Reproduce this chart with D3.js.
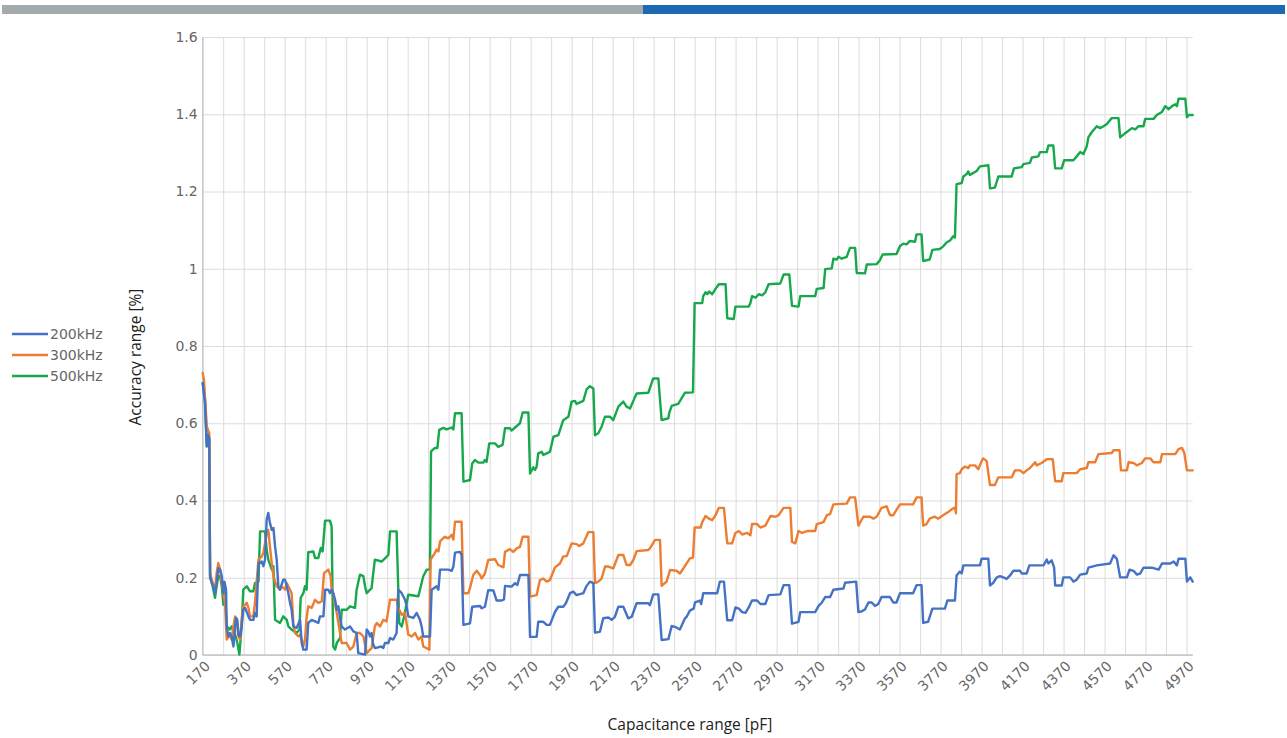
<!DOCTYPE html>
<html>
<head>
<meta charset="utf-8">
<script src="https://cdn.jsdelivr.net/npm/d3@7"></script>
<style>
  body { margin: 0; background: #ffffff; }
  svg { display: block; }
</style>
</head>
<body>
<svg id="chart" width="1287" height="738"></svg>
<script>
// Series labels and colours
const seriesNames = ["200kHz", "300kHz", "500kHz"];
const seriesColors = ["#4472c4", "#ed7d31", "#17a84c"];

// Axis tick labels
const yTickValues = [0, 0.2, 0.4, 0.6, 0.8, 1.0, 1.2, 1.4, 1.6];
const xTickLabels = [170, 370, 570, 770, 970, 1170, 1370, 1570, 1770, 1970, 2170, 2370,
  2570, 2770, 2970, 3170, 3370, 3570, 3770, 3970, 4170, 4370, 4570, 4770, 4970];

// Accuracy range [%] versus capacitance [pF] — 200 kHz
const acc200 = [[170,0.704],[181,0.652],[190,0.54],[196,0.57],[202,0.562],[206,0.204],[214,0.186],[222,0.178],[230,0.16],[238,0.186],[246,0.225],[255,0.221],[263,0.204],[271,0.16],[276,0.19],[284,0.169],[287,0.074],[295,0.048],[303,0.057],[311,0.048],[320,0.022],[328,0.074],[333,0.096],[339,0.091],[344,0.053],[352,0.048],[360,0.074],[368,0.117],[377,0.122],[393,0.1],[401,0.091],[417,0.091],[425,0.109],[433,0.1],[442,0.238],[458,0.242],[466,0.23],[474,0.247],[482,0.35],[490,0.368],[498,0.342],[507,0.324],[515,0.329],[523,0.281],[531,0.247],[539,0.178],[547,0.169],[563,0.195],[572,0.195],[580,0.178],[588,0.16],[596,0.135],[604,0.117],[612,0.074],[628,0.07],[645,0.091],[653,0.031],[661,0.014],[677,0.014],[685,0.083],[702,0.091],[734,0.083],[742,0.1],[759,0.1],[767,0.169],[783,0.169],[791,0.16],[799,0.169],[807,0.16],[816,0.143],[824,0.117],[832,0.126],[840,0.096],[848,0.074],[864,0.066],[889,0.074],[905,0.061],[921,0.057],[929,0.005],[962,0.001],[970,0.066],[978,0.061],[986,0.048],[994,0.057],[1002,0.027],[1010,0.018],[1043,0.022],[1051,0.018],[1059,0.031],[1076,0.031],[1084,0.044],[1100,0.04],[1116,0.057],[1124,0.169],[1141,0.16],[1157,0.143],[1165,0.126],[1173,0.1],[1198,0.096],[1214,0.109],[1230,0.091],[1238,0.074],[1246,0.048],[1279,0.048],[1287,0.169],[1311,0.178],[1320,0.169],[1328,0.221],[1368,0.221],[1385,0.218],[1393,0.229],[1401,0.265],[1425,0.267],[1433,0.259],[1442,0.078],[1474,0.082],[1485,0.125],[1523,0.127],[1531,0.121],[1547,0.125],[1563,0.168],[1588,0.167],[1604,0.141],[1629,0.141],[1640,0.144],[1645,0.179],[1677,0.177],[1694,0.186],[1705,0.181],[1718,0.207],[1759,0.207],[1767,0.047],[1799,0.047],[1807,0.086],[1832,0.086],[1848,0.078],[1864,0.078],[1889,0.112],[1905,0.125],[1929,0.125],[1942,0.134],[1962,0.16],[1978,0.164],[1994,0.155],[2027,0.16],[2043,0.179],[2059,0.19],[2076,0.186],[2084,0.058],[2108,0.06],[2124,0.095],[2149,0.097],[2165,0.091],[2181,0.099],[2198,0.125],[2222,0.125],[2246,0.095],[2263,0.099],[2287,0.134],[2344,0.134],[2352,0.129],[2368,0.157],[2393,0.157],[2409,0.039],[2442,0.041],[2458,0.075],[2474,0.073],[2498,0.066],[2523,0.095],[2531,0.099],[2547,0.115],[2565,0.12],[2572,0.136],[2596,0.141],[2602,0.132],[2612,0.16],[2680,0.16],[2693,0.19],[2713,0.19],[2729,0.09],[2753,0.09],[2769,0.123],[2786,0.12],[2802,0.111],[2818,0.109],[2834,0.123],[2850,0.141],[2875,0.141],[2891,0.132],[2915,0.132],[2931,0.155],[2988,0.157],[3004,0.181],[3032,0.181],[3045,0.081],[3077,0.086],[3085,0.111],[3158,0.111],[3175,0.127],[3191,0.136],[3207,0.15],[3231,0.15],[3247,0.169],[3296,0.172],[3304,0.187],[3358,0.19],[3369,0.111],[3385,0.113],[3401,0.118],[3418,0.136],[3434,0.136],[3450,0.127],[3466,0.132],[3482,0.15],[3523,0.15],[3539,0.136],[3555,0.136],[3572,0.16],[3636,0.16],[3653,0.181],[3677,0.181],[3685,0.083],[3709,0.086],[3730,0.12],[3791,0.12],[3803,0.141],[3840,0.141],[3848,0.206],[3864,0.216],[3873,0.211],[3881,0.232],[3962,0.232],[3970,0.249],[4003,0.249],[4011,0.18],[4027,0.187],[4044,0.201],[4060,0.204],[4076,0.201],[4092,0.197],[4109,0.206],[4125,0.218],[4158,0.218],[4166,0.211],[4190,0.211],[4203,0.232],[4272,0.232],[4288,0.247],[4296,0.237],[4312,0.245],[4324,0.226],[4329,0.18],[4361,0.18],[4369,0.201],[4402,0.201],[4418,0.19],[4434,0.195],[4451,0.208],[4483,0.211],[4491,0.226],[4532,0.232],[4597,0.237],[4614,0.258],[4630,0.249],[4646,0.201],[4679,0.201],[4692,0.221],[4711,0.218],[4728,0.208],[4744,0.211],[4760,0.226],[4801,0.226],[4834,0.221],[4850,0.237],[4891,0.237],[4907,0.242],[4923,0.232],[4931,0.249],[4964,0.249],[4972,0.19],[4988,0.201],[5000,0.19]];

// 300 kHz
const acc300 = [[170,0.73],[176,0.713],[181,0.67],[190,0.592],[198,0.579],[202,0.575],[206,0.212],[214,0.195],[230,0.169],[238,0.212],[246,0.238],[255,0.221],[263,0.186],[271,0.16],[279,0.135],[287,0.04],[303,0.053],[311,0.04],[320,0.074],[328,0.1],[336,0.091],[344,0.048],[352,0.04],[360,0.091],[368,0.126],[385,0.135],[393,0.122],[401,0.1],[417,0.1],[425,0.135],[442,0.247],[458,0.255],[466,0.264],[474,0.29],[482,0.316],[490,0.324],[498,0.281],[507,0.238],[515,0.204],[531,0.178],[547,0.169],[555,0.178],[572,0.169],[580,0.186],[588,0.178],[604,0.16],[612,0.083],[620,0.057],[637,0.048],[645,0.053],[653,0.04],[661,0.022],[669,0.04],[677,0.096],[685,0.126],[702,0.122],[718,0.143],[734,0.135],[751,0.139],[762,0.212],[783,0.221],[794,0.204],[799,0.169],[807,0.16],[816,0.13],[824,0.109],[840,0.057],[848,0.031],[872,0.031],[889,0.014],[905,0.022],[921,0.057],[937,0.057],[954,0.048],[970,0.005],[994,0.018],[1010,0.074],[1019,0.083],[1035,0.074],[1051,0.091],[1067,0.087],[1084,0.143],[1116,0.143],[1124,0.122],[1141,0.104],[1157,0.109],[1173,0.053],[1190,0.048],[1206,0.057],[1222,0.04],[1238,0.048],[1246,0.022],[1276,0.014],[1282,0.247],[1303,0.264],[1311,0.273],[1320,0.268],[1328,0.294],[1344,0.303],[1352,0.306],[1368,0.302],[1385,0.311],[1393,0.299],[1401,0.345],[1433,0.345],[1442,0.16],[1466,0.16],[1474,0.173],[1490,0.207],[1507,0.218],[1523,0.207],[1531,0.198],[1547,0.211],[1563,0.246],[1596,0.248],[1612,0.233],[1637,0.227],[1645,0.267],[1669,0.274],[1685,0.267],[1702,0.276],[1718,0.28],[1731,0.306],[1759,0.306],[1767,0.151],[1799,0.155],[1815,0.194],[1832,0.198],[1848,0.19],[1864,0.194],[1889,0.227],[1913,0.237],[1929,0.255],[1946,0.256],[1970,0.289],[1994,0.287],[2007,0.282],[2027,0.289],[2051,0.318],[2076,0.318],[2084,0.186],[2100,0.19],[2116,0.198],[2133,0.229],[2149,0.229],[2173,0.224],[2198,0.259],[2222,0.259],[2238,0.233],[2255,0.233],[2271,0.246],[2287,0.269],[2344,0.272],[2352,0.276],[2377,0.298],[2401,0.298],[2409,0.179],[2433,0.19],[2450,0.22],[2482,0.218],[2498,0.211],[2515,0.224],[2531,0.237],[2547,0.25],[2562,0.252],[2570,0.33],[2599,0.33],[2607,0.344],[2623,0.36],[2640,0.353],[2656,0.349],[2672,0.362],[2688,0.381],[2713,0.381],[2729,0.289],[2753,0.289],[2769,0.316],[2786,0.321],[2802,0.312],[2826,0.316],[2842,0.31],[2850,0.339],[2875,0.339],[2891,0.33],[2915,0.335],[2940,0.36],[2964,0.358],[2980,0.362],[3004,0.381],[3037,0.381],[3045,0.293],[3061,0.289],[3077,0.321],[3094,0.316],[3118,0.321],[3158,0.321],[3166,0.339],[3199,0.344],[3215,0.362],[3231,0.365],[3247,0.39],[3312,0.392],[3328,0.408],[3353,0.408],[3369,0.335],[3393,0.358],[3426,0.358],[3442,0.353],[3458,0.358],[3482,0.381],[3507,0.385],[3523,0.362],[3539,0.362],[3555,0.376],[3572,0.39],[3636,0.39],[3653,0.408],[3677,0.408],[3685,0.335],[3701,0.339],[3717,0.353],[3741,0.358],[3758,0.353],[3782,0.362],[3807,0.37],[3824,0.377],[3840,0.382],[3845,0.367],[3848,0.468],[3864,0.471],[3873,0.481],[3889,0.488],[3905,0.484],[3913,0.491],[3938,0.491],[3954,0.481],[3970,0.502],[3978,0.509],[3995,0.502],[4011,0.44],[4035,0.44],[4052,0.46],[4117,0.46],[4133,0.478],[4158,0.478],[4174,0.471],[4190,0.478],[4206,0.484],[4231,0.499],[4239,0.491],[4263,0.497],[4288,0.507],[4317,0.507],[4329,0.45],[4361,0.45],[4369,0.471],[4434,0.471],[4451,0.481],[4483,0.484],[4491,0.499],[4524,0.499],[4540,0.52],[4605,0.523],[4614,0.53],[4643,0.53],[4650,0.478],[4679,0.478],[4687,0.499],[4711,0.497],[4728,0.491],[4752,0.497],[4768,0.509],[4793,0.509],[4809,0.499],[4842,0.499],[4850,0.52],[4915,0.52],[4931,0.533],[4948,0.536],[4959,0.523],[4972,0.478],[5000,0.478]];

// 500 kHz
const acc500 = [[170,0.704],[181,0.661],[190,0.54],[196,0.57],[202,0.557],[206,0.199],[214,0.19],[222,0.169],[230,0.148],[238,0.178],[246,0.204],[255,0.204],[263,0.178],[271,0.13],[279,0.16],[287,0.074],[303,0.066],[311,0.074],[328,0.053],[339,0.031],[349,0.001],[360,0.074],[368,0.169],[385,0.178],[401,0.165],[417,0.165],[425,0.186],[442,0.19],[450,0.32],[474,0.32],[482,0.273],[490,0.247],[507,0.221],[515,0.23],[523,0.091],[547,0.083],[563,0.1],[580,0.091],[588,0.074],[604,0.066],[628,0.057],[642,0.066],[648,0.148],[661,0.16],[669,0.178],[677,0.169],[685,0.266],[710,0.268],[718,0.251],[734,0.251],[746,0.277],[755,0.268],[767,0.348],[791,0.348],[799,0.333],[807,0.022],[816,0.014],[824,0.031],[840,0.044],[848,0.117],[872,0.117],[889,0.126],[913,0.122],[921,0.169],[937,0.208],[954,0.204],[962,0.178],[970,0.16],[994,0.173],[1002,0.212],[1010,0.247],[1043,0.242],[1067,0.254],[1076,0.26],[1084,0.32],[1116,0.32],[1129,0.083],[1141,0.074],[1153,0.1],[1173,0.156],[1222,0.152],[1230,0.169],[1246,0.204],[1263,0.221],[1279,0.221],[1284,0.527],[1303,0.536],[1315,0.536],[1324,0.583],[1344,0.588],[1360,0.584],[1385,0.589],[1393,0.584],[1401,0.626],[1433,0.626],[1442,0.449],[1474,0.453],[1485,0.496],[1498,0.505],[1515,0.498],[1539,0.498],[1547,0.505],[1555,0.5],[1568,0.548],[1596,0.548],[1612,0.539],[1633,0.544],[1645,0.587],[1669,0.587],[1677,0.581],[1694,0.589],[1718,0.6],[1731,0.628],[1759,0.628],[1767,0.47],[1783,0.486],[1791,0.479],[1799,0.487],[1807,0.522],[1824,0.526],[1832,0.518],[1864,0.526],[1881,0.565],[1905,0.569],[1929,0.608],[1954,0.617],[1970,0.656],[1986,0.658],[1994,0.65],[2027,0.658],[2043,0.688],[2059,0.696],[2076,0.69],[2084,0.569],[2100,0.574],[2116,0.591],[2133,0.617],[2157,0.617],[2173,0.608],[2198,0.643],[2222,0.656],[2238,0.643],[2255,0.638],[2271,0.658],[2287,0.677],[2344,0.679],[2368,0.716],[2393,0.716],[2409,0.608],[2442,0.613],[2446,0.626],[2458,0.645],[2490,0.65],[2523,0.679],[2562,0.68],[2570,0.911],[2607,0.911],[2612,0.929],[2623,0.939],[2632,0.934],[2640,0.941],[2656,0.934],[2672,0.948],[2688,0.96],[2721,0.96],[2729,0.872],[2761,0.87],[2769,0.902],[2834,0.902],[2842,0.911],[2850,0.929],[2867,0.925],[2883,0.934],[2899,0.931],[2915,0.939],[2931,0.96],[2988,0.962],[3004,0.985],[3032,0.985],[3045,0.904],[3077,0.902],[3085,0.929],[3158,0.929],[3166,0.948],[3199,0.95],[3207,0.999],[3239,1.001],[3247,1.026],[3264,1.024],[3272,1.031],[3288,1.026],[3312,1.031],[3328,1.054],[3353,1.054],[3361,0.989],[3401,0.988],[3410,1.011],[3458,1.012],[3474,1.022],[3487,1.037],[3555,1.038],[3572,1.059],[3588,1.065],[3604,1.063],[3620,1.072],[3645,1.07],[3653,1.089],[3677,1.089],[3685,1.02],[3717,1.024],[3730,1.049],[3766,1.051],[3783,1.058],[3799,1.068],[3816,1.073],[3832,1.084],[3840,1.081],[3848,1.219],[3873,1.222],[3881,1.239],[3897,1.245],[3905,1.252],[3913,1.243],[3946,1.253],[3962,1.265],[4003,1.268],[4011,1.208],[4035,1.21],[4052,1.239],[4117,1.239],[4128,1.26],[4166,1.263],[4174,1.271],[4206,1.274],[4215,1.288],[4247,1.291],[4255,1.302],[4288,1.302],[4296,1.319],[4320,1.319],[4329,1.26],[4361,1.26],[4373,1.281],[4418,1.281],[4434,1.291],[4451,1.302],[4467,1.297],[4483,1.317],[4491,1.34],[4508,1.354],[4524,1.364],[4532,1.369],[4548,1.364],[4565,1.369],[4581,1.375],[4605,1.39],[4638,1.39],[4646,1.34],[4671,1.351],[4703,1.364],[4720,1.361],[4736,1.369],[4760,1.369],[4768,1.388],[4809,1.388],[4825,1.398],[4850,1.406],[4866,1.421],[4883,1.413],[4899,1.421],[4915,1.426],[4923,1.421],[4931,1.44],[4964,1.44],[4972,1.392],[4980,1.398],[5000,1.398]];

const seriesData = [acc200, acc300, acc500];

const svg = d3.select("#chart");

// Header band across the top
svg.append("rect").attr("x", 2).attr("y", 5).attr("width", 641).attr("height", 9)
  .attr("fill", "#a2aaad");
svg.append("rect").attr("x", 643).attr("y", 5).attr("width", 642).attr("height", 9)
  .attr("fill", "#1f69b4");

// Plot area bounds
const plotLeft = 202.7, plotRight = 1192.7, plotTop = 37, plotBottom = 655;
const x = d3.scaleLinear().domain([170, 5000]).range([plotLeft, plotRight]);
const y = d3.scaleLinear().domain([0, 1.6]).range([plotBottom, plotTop]);

const tickFont = "'DejaVu Sans', Verdana, sans-serif";
const titleFont = "'Open Sans', 'Noto Sans', sans-serif";

// Vertical gridlines every 100 pF
const gridX = svg.append("g")
  .attr("transform", `translate(0,${plotBottom})`)
  .call(d3.axisBottom(x).tickValues(d3.range(170, 5000, 100))
    .tickSize(-(plotBottom - plotTop)).tickFormat(""));
gridX.select(".domain").remove();
gridX.selectAll(".tick line").attr("stroke", "#dcdcdc").attr("stroke-width", 1);

// Horizontal gridlines
const gridY = svg.append("g")
  .attr("transform", `translate(${plotLeft},0)`)
  .call(d3.axisLeft(y).tickValues(yTickValues)
    .tickSize(-(plotRight - plotLeft)).tickFormat(""));
gridY.select(".domain").remove();
gridY.selectAll(".tick line").attr("stroke", "#dcdcdc").attr("stroke-width", 1);

// Axis lines
svg.append("line").attr("x1", plotLeft).attr("x2", plotLeft).attr("y1", plotTop).attr("y2", plotBottom)
  .attr("stroke", "#c4c4c4").attr("stroke-width", 1.2);
svg.append("line").attr("x1", plotLeft).attr("x2", plotRight).attr("y1", plotBottom).attr("y2", plotBottom)
  .attr("stroke", "#c4c4c4").attr("stroke-width", 1.5);

// Y tick labels
const yAxis = svg.append("g")
  .attr("transform", `translate(${plotLeft},0)`)
  .call(d3.axisLeft(y).tickValues(yTickValues).tickSize(0).tickPadding(5).tickFormat(d3.format("~g")));
yAxis.select(".domain").remove();
yAxis.selectAll("text").attr("font-family", tickFont).attr("font-size", 14).attr("fill", "#666666");

// X tick labels, rotated
const xAxis = svg.append("g")
  .attr("transform", `translate(0,${plotBottom})`)
  .call(d3.axisBottom(x).tickValues(xTickLabels).tickSize(0).tickFormat(d3.format("d")));
xAxis.select(".domain").remove();
xAxis.selectAll("text")
  .attr("font-family", tickFont).attr("font-size", 14).attr("fill", "#666666")
  .attr("text-anchor", "end")
  .attr("dy", null).attr("y", 0)
  .attr("transform", "translate(5,9) rotate(-45)")
  .attr("dominant-baseline", "middle");

// Series lines
const line = d3.line().x(d => x(d[0])).y(d => y(d[1]));
const drawOrder = [2, 1, 0];
drawOrder.forEach(i => {
  svg.append("path")
    .datum(seriesData[i])
    .attr("fill", "none")
    .attr("stroke", seriesColors[i])
    .attr("stroke-width", 2.4)
    .attr("stroke-linejoin", "round")
    .attr("stroke-linecap", "round")
    .attr("d", line);
});

// Axis titles
svg.append("text")
  .attr("transform", "translate(141,357) rotate(-90)")
  .attr("text-anchor", "middle")
  .attr("font-family", titleFont).attr("font-size", 15.5).attr("fill", "#222222")
  .text("Accuracy range [%]");
svg.append("text")
  .attr("x", 690).attr("y", 730)
  .attr("text-anchor", "middle")
  .attr("font-family", titleFont).attr("font-size", 15.5).attr("fill", "#222222")
  .text("Capacitance range [pF]");

// Legend
const legend = svg.append("g");
seriesNames.forEach((name, i) => {
  const ly = 334 + i * 21;
  legend.append("line").attr("x1", 12).attr("x2", 48).attr("y1", ly).attr("y2", ly)
    .attr("stroke", seriesColors[i]).attr("stroke-width", 2.4);
  legend.append("text").attr("x", 50).attr("y", ly).attr("dy", "0.36em")
    .attr("font-family", tickFont).attr("font-size", 14).attr("fill", "#666666")
    .text(name);
});
</script>
</body>
</html>
